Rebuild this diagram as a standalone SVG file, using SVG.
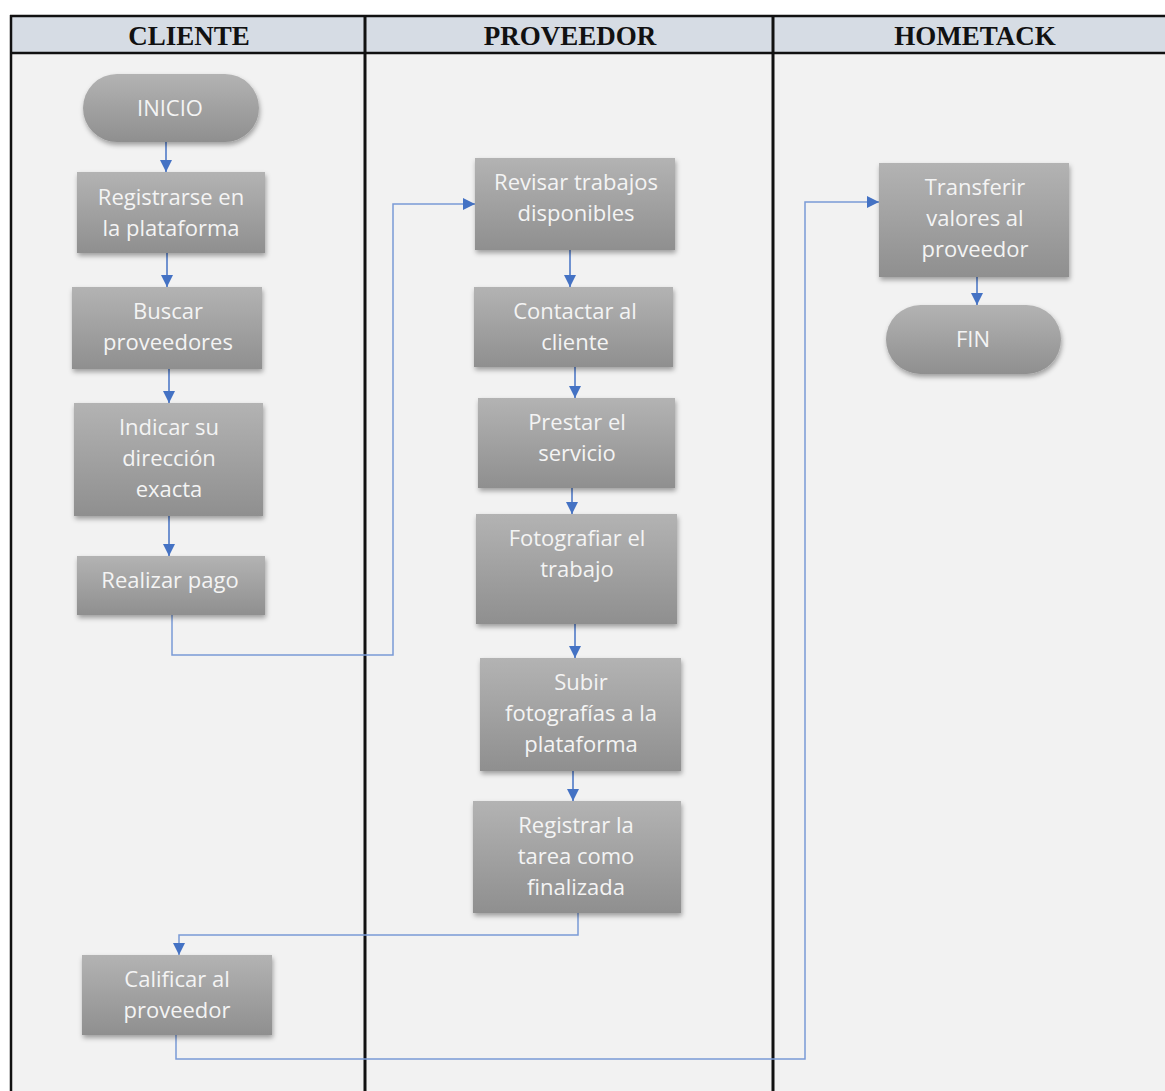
<svg xmlns="http://www.w3.org/2000/svg" width="1165" height="1091" viewBox="0 0 1165 1091">
<defs>
<linearGradient id="g" x1="0" y1="0" x2="0" y2="1">
<stop offset="0" stop-color="#b3b3b3"/>
<stop offset="1" stop-color="#8f8f8f"/>
</linearGradient>
<filter id="sh" x="-10%" y="-10%" width="125%" height="130%">
<feDropShadow dx="1" dy="3" stdDeviation="2.5" flood-color="#000" flood-opacity="0.35"/>
</filter>
<marker id="ah" viewBox="0 0 12 12" refX="12" refY="6" markerWidth="12" markerHeight="12" markerUnits="userSpaceOnUse" orient="auto">
<path d="M0,0 L12,6 L0,12 z" fill="#4472c4"/>
</marker>
<style>
.box{fill:url(#g);filter:url(#sh)}
.t{font-family:"Open Sans","Liberation Sans",sans-serif;font-size:22px;fill:#f4f4f4;text-anchor:middle}
.h{font-family:"Liberation Serif","Times New Roman",serif;font-size:27px;font-weight:bold;fill:#111;text-anchor:middle}
.c{fill:none;stroke:#4472c4;stroke-width:1.5;marker-end:url(#ah)}
.c2{fill:none;stroke:#7a9ad6;stroke-width:1.5;marker-end:url(#ah)}
</style>
</defs>
<rect width="1165" height="1091" fill="#fff"/>
<g id="lanes">
<rect x="10" y="15" width="1160" height="1080" fill="#f2f2f2"/>
<rect x="10" y="15" width="1160" height="38" fill="#d6dce4"/>
<line x1="10" y1="16" x2="1165" y2="16" stroke="#111" stroke-width="2.5"/>
<line x1="10" y1="53" x2="1165" y2="53" stroke="#111" stroke-width="2.5"/>
<line x1="11" y1="15" x2="11" y2="1091" stroke="#111" stroke-width="2.5"/>
<line x1="365" y1="15" x2="365" y2="1091" stroke="#111" stroke-width="3"/>
<line x1="773" y1="15" x2="773" y2="1091" stroke="#111" stroke-width="3"/>
<text class="h" x="189" y="45">CLIENTE</text>
<text class="h" x="570" y="45">PROVEEDOR</text>
<text class="h" x="975" y="45">HOMETACK</text>
</g>
<g id="connectors">
<line class="c" x1="166" y1="142" x2="166" y2="172"/>
<line class="c" x1="167" y1="253" x2="167" y2="287"/>
<line class="c" x1="169" y1="369" x2="169" y2="403"/>
<line class="c" x1="169" y1="516" x2="169" y2="556"/>
<polyline class="c2" points="172,615 172,655 393,655 393,204 475,204"/>
<line class="c" x1="570" y1="250" x2="570" y2="287"/>
<line class="c" x1="575" y1="367" x2="575" y2="398"/>
<line class="c" x1="572" y1="488" x2="572" y2="514"/>
<line class="c" x1="575" y1="624" x2="575" y2="658"/>
<line class="c" x1="573" y1="771" x2="573" y2="801"/>
<polyline class="c2" points="578,913 578,935 179,935 179,955"/>
<polyline class="c2" points="176,1020 176,1059 805,1059 805,202 879,202"/>
<line class="c" x1="977" y1="277" x2="977" y2="305"/>
</g>
<g id="n-inicio"><rect class="box" x="83" y="74" width="176" height="68" rx="34"/><text class="t" x="170" y="116">INICIO</text></g>
<g id="n-registrarse"><rect class="box" x="77" y="172" width="188" height="81"/><text class="t" x="171" y="205">Registrarse en</text><text class="t" x="171" y="236">la plataforma</text></g>
<g id="n-buscar"><rect class="box" x="72" y="287" width="190" height="82"/><text class="t" x="168" y="319">Buscar</text><text class="t" x="168" y="350">proveedores</text></g>
<g id="n-indicar"><rect class="box" x="74" y="403" width="189" height="113"/><text class="t" x="169" y="435">Indicar su</text><text class="t" x="169" y="466">dirección</text><text class="t" x="169" y="497">exacta</text></g>
<g id="n-pago"><rect class="box" x="77" y="556" width="188" height="59"/><text class="t" x="170" y="588">Realizar pago</text></g>
<g id="n-calificar"><rect class="box" x="82" y="955" width="190" height="80"/><text class="t" x="177" y="987">Calificar al</text><text class="t" x="177" y="1018">proveedor</text></g>
<g id="n-revisar"><rect class="box" x="475" y="158" width="200" height="92"/><text class="t" x="576" y="190">Revisar trabajos</text><text class="t" x="576" y="221">disponibles</text></g>
<g id="n-contactar"><rect class="box" x="474" y="287" width="199" height="80"/><text class="t" x="575" y="319">Contactar al</text><text class="t" x="575" y="350">cliente</text></g>
<g id="n-prestar"><rect class="box" x="478" y="398" width="197" height="90"/><text class="t" x="577" y="430">Prestar el</text><text class="t" x="577" y="461">servicio</text></g>
<g id="n-fotografiar"><rect class="box" x="476" y="514" width="201" height="110"/><text class="t" x="577" y="546">Fotografiar el</text><text class="t" x="577" y="577">trabajo</text></g>
<g id="n-subir"><rect class="box" x="480" y="658" width="201" height="113"/><text class="t" x="581" y="690">Subir</text><text class="t" x="581" y="721">fotografías a la</text><text class="t" x="581" y="752">plataforma</text></g>
<g id="n-registrar"><rect class="box" x="473" y="801" width="208" height="112"/><text class="t" x="576" y="833">Registrar la</text><text class="t" x="576" y="864">tarea como</text><text class="t" x="576" y="895">finalizada</text></g>
<g id="n-transferir"><rect class="box" x="879" y="163" width="190" height="114"/><text class="t" x="975" y="195">Transferir</text><text class="t" x="975" y="226">valores al</text><text class="t" x="975" y="257">proveedor</text></g>
<g id="n-fin"><rect class="box" x="886" y="305" width="175" height="69" rx="34.5"/><text class="t" x="973" y="347">FIN</text></g>
</svg>
